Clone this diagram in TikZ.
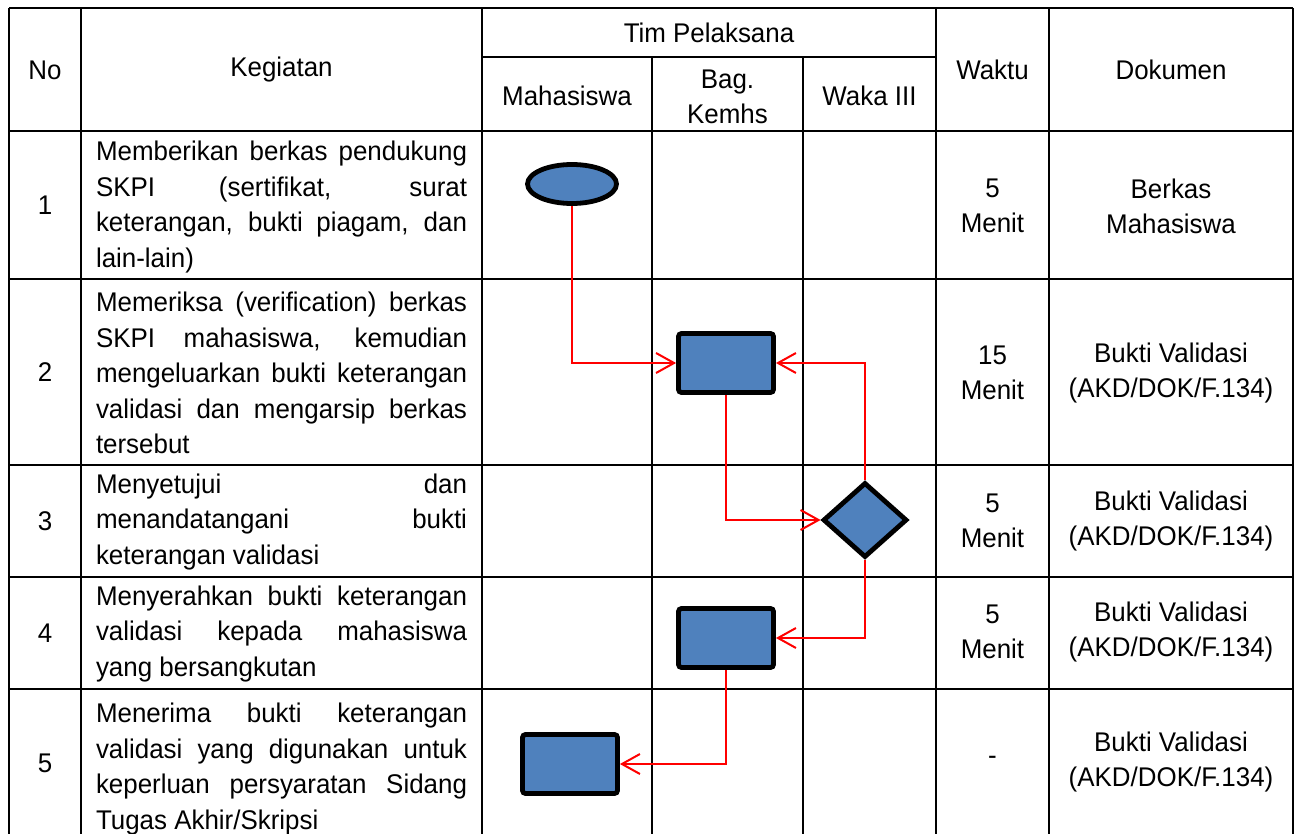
\documentclass[tikz,border=0pt]{standalone}
\usepackage{fontspec}
\setmainfont[FakeStretch=0.96]{Liberation Sans}
\usetikzlibrary{arrows.meta,positioning,shapes.geometric}
\definecolor{ShapeBlue}{HTML}{4F81BD}
\definecolor{FlowRed}{HTML}{FF0000}
\hyphenpenalty=10000
\tolerance=10000
\hbadness=10000

\begin{document}
\begin{tikzpicture}[x=0.5pt,y=-0.5pt,
  tabline/.style={draw=black,line width=1pt},
  cell/.style={font=\fontsize{13.5}{17.5}\selectfont,align=center,inner sep=0pt},
  task/.style={font=\fontsize{13.5}{17.75}\selectfont,text width=185.5pt,align=justify,inner sep=0pt},
  termnode/.style={ellipse,draw=black,fill=ShapeBlue,line width=2.4pt,minimum width=44.5pt,minimum height=19.5pt,inner sep=0pt},
  procnode/.style={rectangle,rounded corners=1.5pt,draw=black,fill=ShapeBlue,line width=2.4pt,minimum width=47.5pt,minimum height=29.5pt,inner sep=0pt},
  decnode/.style={diamond,draw=black,fill=ShapeBlue,line width=2.4pt,minimum width=42pt,minimum height=37.5pt,inner sep=0pt},
  arrowline/.style={draw=FlowRed,line width=1pt,-{Straight Barb[length=9pt,width=10pt]}}
]
\useasboundingbox (0,0) rectangle (1295,834);
\draw[tabline] (9,8) -- (1293,8) (482,57) -- (936,57)
  (9,131) -- (1293,131) (9,279) -- (1293,279) (9,465) -- (1293,465)
  (9,577) -- (1293,577) (9,689) -- (1293,689);
\draw[tabline] (9,8) -- (9,834) (81,8) -- (81,834) (482,8) -- (482,834)
  (936,8) -- (936,834) (1049,8) -- (1049,834) (1293,8) -- (1293,834)
  (652,57) -- (652,834) (803,57) -- (803,834);
\node[cell] (hno) at (45,70) {No};
\node[cell] (hkeg) at (281.5,70) {Kegiatan};
\node[cell] (htim) at (709,33) {Tim Pelaksana};
\node[cell] (hmhs) at (567,96) {Mahasiswa};
\node[cell] (hbag) at (727.5,97) {Bag.\\Kemhs};
\node[cell] (hwaka) at (869.5,96) {Waka III};
\node[cell] (hwaktu) at (992.5,70) {Waktu};
\node[cell] (hdok) at (1171,70) {Dokumen};
\node[cell] (n1) at (45,205) {1};
\node[cell] (n2) at (45,372) {2};
\node[cell] (n3) at (45,521) {3};
\node[cell] (n4) at (45,633) {4};
\node[cell] (n5) at (45,763) {5};
\node[task] (k1) at (281.5,207) {Memberikan berkas pendukung\linebreak SKPI (sertifikat, surat\linebreak keterangan, bukti piagam, dan\linebreak lain-lain)};
\node[task] (k2) at (281.5,373) {Memeriksa (verification) berkas\linebreak SKPI mahasiswa, kemudian\linebreak mengeluarkan bukti keterangan\linebreak validasi dan mengarsip berkas\linebreak tersebut};
\node[task] (k3) at (281.5,522) {Menyetujui dan\linebreak menandatangani bukti\linebreak keterangan validasi};
\node[task] (k4) at (281.5,634) {Menyerahkan bukti keterangan\linebreak validasi kepada mahasiswa\linebreak yang bersangkutan};
\node[task] (k5) at (281.5,769) {Menerima bukti keterangan\linebreak validasi yang digunakan untuk\linebreak keperluan persyaratan Sidang\linebreak Tugas Akhir/Skripsi};
\node[cell] (w1) at (992.5,206) {5\\Menit};
\node[cell] (w2) at (992.5,373) {15\\Menit};
\node[cell] (w3) at (992.5,521) {5\\Menit};
\node[cell] (w4) at (992.5,632) {5\\Menit};
\node[cell] (w5) at (992.5,760) {-};
\node[cell] (d1) at (1171,206) {Berkas\\Mahasiswa};
\node[cell] (d2) at (1171,373) {Bukti Validasi\\(AKD/DOK/F.134)};
\node[cell] (d3) at (1171,521) {Bukti Validasi\\(AKD/DOK/F.134)};
\node[cell] (d4) at (1171,632) {Bukti Validasi\\(AKD/DOK/F.134)};
\node[cell] (d5) at (1171,762) {Bukti Validasi\\(AKD/DOK/F.134)};
\node[termnode] (s1) at (572,184) {};
\node[procnode] (p2) at (726,363) {};
\node[decnode] (q3) at (865,520) {};
\node[procnode] (p4) at (726,638) {};
\node[procnode] (p5) at (570,764) {};
\draw[arrowline] (s1.south) |- (p2.west);
\draw[arrowline] (p2.south) |- (q3.west);
\draw[arrowline] (q3.north) |- (p2.east);
\draw[arrowline] (q3.south) |- (p4.east);
\draw[arrowline] (p4.south) |- (p5.east);
\end{tikzpicture}
\end{document}
